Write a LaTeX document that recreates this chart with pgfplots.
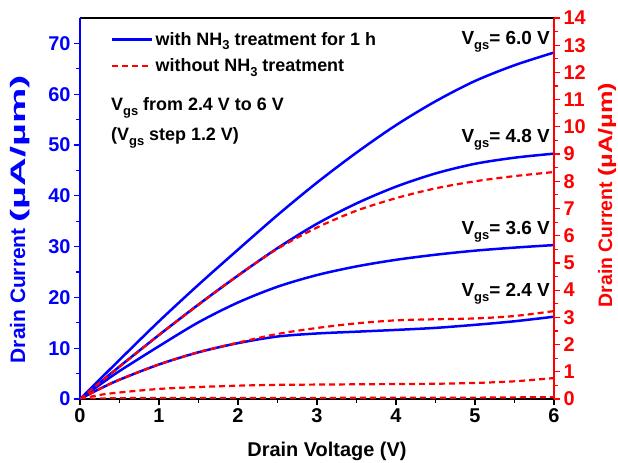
\documentclass[border=0pt]{standalone}
\usepackage{graphicx}
\usepackage{pgfplots}
\pgfplotsset{compat=1.18}
\usepackage{fontspec}
\setmainfont{Liberation Sans}
\definecolor{myblue}{RGB}{0,0,255}
\definecolor{myred}{RGB}{255,0,0}
\newcommand\fs[1]{\fontsize{#1}{#1}\selectfont\bfseries}
\newcommand\sub[1]{\raisebox{-0.45ex}{\fontsize{13}{13}\selectfont\bfseries #1}}
\begin{document}
\begin{tikzpicture}
\begin{axis}[
  scale only axis, width=474bp, height=381bp,
  xmin=0, xmax=6, ymin=0, ymax=75,
  axis x line*=box, axis y line*=left,
  axis line style={-, line width=1.2bp},
  x axis line style={black},
  y axis line style={myblue},
  xtick={0,1,...,6}, minor x tick num=1,
  ytick={0,10,...,70}, minor y tick num=1,
  xtick pos=bottom, ytick pos=left,
  tick align=outside,
  major tick length=6bp, minor tick length=3.5bp,
  ytick style={myblue, line width=1.2bp},
  xtick style={black, line width=1.2bp},
  /pgf/number format/assume math mode=true,
  ticklabel style={font=\fs{20}},
  yticklabel style={myblue},
  xlabel={Drain Voltage (V)},
  ylabel={Drain Current \scalebox{1.9}[1]{(µA/µm)}},
  xlabel style={font=\fs{20}, at={(axis description cs:0.521,-0.137)}, anchor=center},
  ylabel style={font=\fs{21}, myblue, at={(axis description cs:-0.127,0.472)}, anchor=center, rotate=0},
  legend image code/.code={\draw[#1] (0bp,0bp) -- (40bp,0bp);},
  legend style={draw=none, fill=none, at={(axis cs:0.392,72.6)}, anchor=north west,
    font=\fs{18}, row sep=8bp, inner sep=0pt, nodes={inner sep=2bp}},
  legend cell align=left,
]
\addlegendimage{myblue, line width=2.5bp}
\addlegendentry{with NH\sub{3} treatment for 1 h}
\addlegendimage{myred, line width=2.2bp, dash pattern=on 6bp off 4bp}
\addlegendentry{without NH\sub{3} treatment}

\addplot[myblue, line width=2.5bp, smooth, forget plot] coordinates {(0,0)(0.25,3.85)(0.5,7.7)(1,15.3)(1.5,22.5)(2,29.4)(2.5,36.2)(3,42.6)(3.5,48.5)(4,53.9)(4.5,58.6)(5,62.6)(5.5,65.7)(6,68.2)};
\addplot[myblue, line width=2.5bp, smooth, forget plot] coordinates {(0,0)(0.25,3.2)(0.5,6.4)(1,12.6)(1.5,18.6)(2,24.3)(2.5,29.7)(3,34.5)(3.5,38.5)(4,41.8)(4.5,44.4)(5,46.3)(5.5,47.5)(6,48.3)};
\addplot[myblue, line width=2.5bp, smooth, forget plot] coordinates {(0,0)(0.25,2.8)(0.5,5.5)(1,10.4)(1.5,15.1)(2,19.0)(2.5,22.1)(3,24.4)(3.5,26.1)(4,27.4)(4.5,28.4)(5,29.2)(5.5,29.8)(6,30.3)};
\addplot[myblue, line width=2.5bp, smooth, forget plot] coordinates {(0,0)(0.25,2.0)(0.5,3.8)(1,6.8)(1.5,9.2)(2,11.0)(2.5,12.3)(3,12.9)(3.5,13.25)(4,13.6)(4.5,14.0)(5,14.6)(5.5,15.3)(6,16.2)};

\node[anchor=base west, inner sep=0pt, font=\fs{18}] at (axis cs:0.392,56.7) {V\sub{gs} from 2.4 V to 6 V};
\node[anchor=base west, inner sep=0pt, font=\fs{18}] at (axis cs:0.392,50.8) {(V\sub{gs} step 1.2 V)};
\node[anchor=base east, inner sep=0pt, font=\fs{19}] at (axis cs:5.95,69.7) {V\sub{gs}= 6.0 V};
\node[anchor=base east, inner sep=0pt, font=\fs{19}] at (axis cs:5.95,50.4) {V\sub{gs}= 4.8 V};
\node[anchor=base east, inner sep=0pt, font=\fs{19}] at (axis cs:5.95,32.3) {V\sub{gs}= 3.6 V};
\node[anchor=base east, inner sep=0pt, font=\fs{19}] at (axis cs:5.95,20.1) {V\sub{gs}= 2.4 V};
\end{axis}

\begin{axis}[
  scale only axis, width=474bp, height=381bp,
  xmin=0, xmax=6, ymin=0, ymax=14,
  axis x line=none, axis y line*=right,
  axis line style={-, line width=1.2bp},
  y axis line style={myred},
  ytick={0,1,...,14}, minor y tick num=1,
  tick align=outside,
  major tick length=6bp, minor tick length=3.5bp,
  ytick style={myred, line width=1.2bp},
  /pgf/number format/assume math mode=true,
  ticklabel style={font=\fs{20}},
  yticklabel style={myred},
  ylabel={Drain Current \scalebox{1.3}[1]{(µA/µm)}},
  ylabel style={font=\fs{19.5}, myred, at={(axis description cs:1.112,0.535)}, anchor=center, rotate=0},
]
\addplot[myred, line width=2.2bp, dash pattern=on 6bp off 4bp, smooth] coordinates {(0,0)(0.25,0.6)(0.5,1.18)(1,2.35)(1.5,3.46)(2,4.54)(2.5,5.52)(3,6.30)(3.5,6.92)(4,7.38)(4.5,7.74)(5,8.0)(5.5,8.19)(6,8.34)};
\addplot[myred, line width=2.2bp, dash pattern=on 6bp off 4bp, smooth] coordinates {(0,0)(0.25,0.37)(0.5,0.71)(1,1.27)(1.5,1.72)(2,2.07)(2.5,2.39)(3,2.61)(3.5,2.78)(4,2.89)(4.5,2.93)(5,2.96)(5.5,3.05)(6,3.23)};
\addplot[myred, line width=2.2bp, dash pattern=on 6bp off 4bp, smooth] coordinates {(0,0)(0.25,0.15)(0.5,0.24)(1,0.37)(1.5,0.44)(2,0.49)(2.5,0.52)(3,0.53)(3.5,0.54)(4,0.55)(4.5,0.56)(5,0.59)(5.5,0.65)(6,0.77)};
\addplot[myred, line width=2.2bp, dash pattern=on 6bp off 4bp, smooth] coordinates {(0,0)(0.5,0.03)(1,0.04)(2,0.04)(3,0.04)(4,0.05)(5,0.05)(6,0.07)};
\end{axis}
\pgfresetboundingbox
\path[use as bounding box] (-80bp,-64bp) rectangle (538bp,399bp);
\end{tikzpicture}
\end{document}
